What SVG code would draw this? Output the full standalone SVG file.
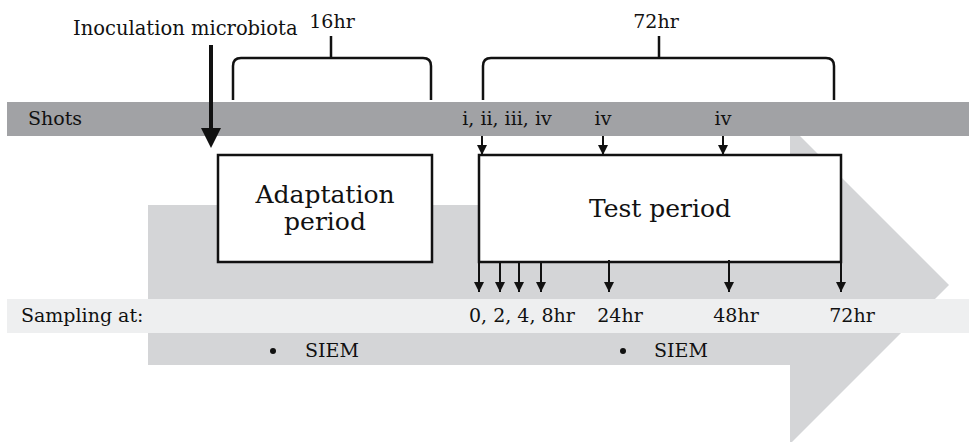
<svg xmlns="http://www.w3.org/2000/svg" width="969" height="442" viewBox="0 0 969 442">
<style>
text{font-family:"DejaVu Serif","Liberation Serif",serif;fill:#111}
.s{font-size:19px}
.big{font-size:25px}
.box{fill:#fff;stroke:#111;stroke-width:2.5}
.ln{stroke:#111;stroke-width:2;fill:none}
.br{stroke:#111;stroke-width:2.5;fill:none}
</style>
<defs>
<marker id="ah" markerWidth="10" markerHeight="10" refX="10" refY="5" orient="auto" markerUnits="userSpaceOnUse">
<path d="M0,0 L10,5 L0,10 Z" fill="#111"/>
</marker>
</defs>
<g id="bigArrow">
<polygon points="148,205 790,205 790,126 949,285 790,444 790,365 148,365" fill="#d4d5d7"/>
</g>
<g id="shotsBar">
<rect x="7" y="102" width="962" height="34" fill="#a1a2a5"/>
<text class="s" x="28" y="125">Shots</text>
<text class="s" x="507" y="125" text-anchor="middle">i, ii, iii, iv</text>
<text class="s" x="603" y="125" text-anchor="middle">iv</text>
<text class="s" x="723" y="125" text-anchor="middle">iv</text>
</g>
<g id="samplingBar">
<rect x="7" y="299" width="962" height="34" fill="#eeeff0"/>
<text class="s" x="21" y="322">Sampling at:</text>
<text class="s" x="522" y="322" text-anchor="middle">0, 2, 4, 8hr</text>
<text class="s" x="620" y="322" text-anchor="middle">24hr</text>
<text class="s" x="736" y="322" text-anchor="middle">48hr</text>
<text class="s" x="852" y="322" text-anchor="middle">72hr</text>
</g>
<g id="siem">
<circle cx="273" cy="351" r="3" fill="#111"/>
<text class="s" x="305" y="357">SIEM</text>
<circle cx="623" cy="351" r="3" fill="#111"/>
<text class="s" x="654" y="357">SIEM</text>
</g>
<g id="adaptation">
<rect class="box" x="218" y="155" width="214" height="107"/>
<text class="big" x="325" y="203" text-anchor="middle">Adaptation</text>
<text class="big" x="325" y="230" text-anchor="middle">period</text>
</g>
<g id="test">
<rect class="box" x="479" y="155" width="362" height="107"/>
<text class="big" x="660" y="217" text-anchor="middle">Test period</text>
</g>
<g id="brace16">
<path class="br" d="M233,100 L233,66 Q233,58 241,58 L423,58 Q431,58 431,66 L431,100 M331,58 L331,36"/>
<text class="s" x="332" y="28" text-anchor="middle">16hr</text>
</g>
<g id="brace72">
<path class="br" d="M483,100 L483,66 Q483,58 491,58 L826,58 Q834,58 834,66 L834,100 M659,58 L659,36"/>
<text class="s" x="656" y="28" text-anchor="middle">72hr</text>
</g>
<g id="inoculation">
<text style="font-size:19.5px" x="73" y="35">Inoculation microbiota</text>
<line x1="211" y1="45" x2="211" y2="130" stroke="#111" stroke-width="4"/>
<polygon points="201,128 221,128 211,148" fill="#111"/>
</g>
<g id="connectors">
<line class="ln" x1="482" y1="136" x2="482" y2="155" marker-end="url(#ah)"/>
<line class="ln" x1="603" y1="136" x2="603" y2="155" marker-end="url(#ah)"/>
<line class="ln" x1="723" y1="136" x2="723" y2="155" marker-end="url(#ah)"/>
<line class="ln" x1="479" y1="262" x2="479" y2="292" marker-end="url(#ah)"/>
<line class="ln" x1="500" y1="262" x2="500" y2="292" marker-end="url(#ah)"/>
<line class="ln" x1="519" y1="262" x2="519" y2="292" marker-end="url(#ah)"/>
<line class="ln" x1="541" y1="262" x2="541" y2="292" marker-end="url(#ah)"/>
<line class="ln" x1="609" y1="260" x2="609" y2="292" marker-end="url(#ah)"/>
<line class="ln" x1="729" y1="260" x2="729" y2="292" marker-end="url(#ah)"/>
<line class="ln" x1="841" y1="262" x2="841" y2="292" marker-end="url(#ah)"/>
</g>
</svg>
